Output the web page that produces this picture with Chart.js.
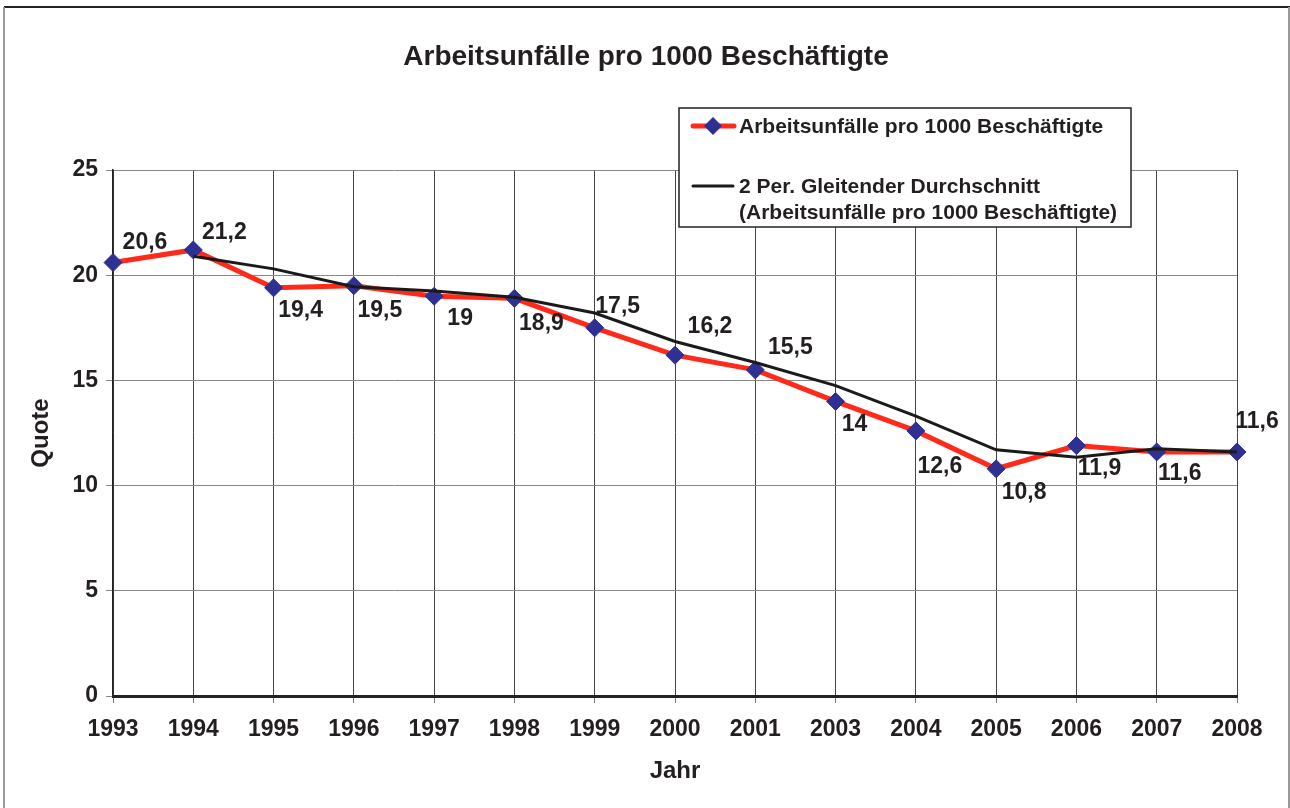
<!DOCTYPE html>
<html>
<head>
<meta charset="utf-8">
<title>Arbeitsunfälle pro 1000 Beschäftigte</title>
<script src="https://cdn.jsdelivr.net/npm/chart.js@4.4.1/dist/chart.umd.min.js"></script>
<style>
  html, body { margin: 0; padding: 0; background: #fff; }
  #wrap { width: 1290px; height: 808px; position: relative; }
</style>
</head>
<body>
<div id="wrap"><canvas id="myChart" width="1290" height="808"></canvas></div>
<script>
// Daten
const jahre = ['1993','1994','1995','1996','1997','1998','1999','2000','2001','2003','2004','2005','2006','2007','2008'];
const quote = [20.6, 21.2, 19.4, 19.5, 19, 18.9, 17.5, 16.2, 15.5, 14, 12.6, 10.8, 11.9, 11.6, 11.6];
const gleitend = [null, 20.9, 20.3, 19.45, 19.25, 18.95, 18.2, 16.85, 15.85, 14.75, 13.3, 11.7, 11.35, 11.75, 11.6];
const yTicks = [0, 5, 10, 15, 20, 25];

const titel = 'Arbeitsunfälle pro 1000 Beschäftigte';
const serie1 = 'Arbeitsunfälle pro 1000 Beschäftigte';
const serie2 = ['2 Per. Gleitender Durchschnitt', '(Arbeitsunfälle pro 1000 Beschäftigte)'];

// Lage der Wertbeschriftungen relativ zum Punkt (px)
const labelOffsets = [[32,-20],[31,-17],[27,23],[26,25],[26,22],[27,25],[23,-21],[35,-28],[35,-22],[19,23],[24,36],[28,24],[23,23],[23,22],[20,-30]];

const FONT = '"Liberation Sans", Arial, Helvetica, sans-serif';
const TEXT = '#231f20';
const ROT = '#ff2a1a';
const BLAU = '#2e3192';

const extras = {
  id: 'extras',
  afterDraw(chart) {
    const ctx = chart.ctx;
    ctx.save();
    // Rahmen
    ctx.strokeStyle = '#222';
    ctx.lineWidth = 2;
    ctx.beginPath(); ctx.moveTo(4, 7); ctx.lineTo(1290, 7); ctx.stroke();
    ctx.strokeStyle = '#999';
    ctx.lineWidth = 2;
    ctx.beginPath(); ctx.moveTo(4, 7); ctx.lineTo(4, 808); ctx.stroke();
    ctx.beginPath(); ctx.moveTo(1289, 7); ctx.lineTo(1289, 808); ctx.stroke();

    // Titel
    ctx.fillStyle = TEXT;
    ctx.font = 'bold 28px ' + FONT;
    ctx.textAlign = 'center';
    ctx.textBaseline = 'middle';
    ctx.fillText(titel, 646, 57);

    // Wertbeschriftungen
    const meta = chart.getDatasetMeta(0);
    ctx.font = 'bold 23px ' + FONT;
    meta.data.forEach((pt, i) => {
      const o = labelOffsets[i];
      ctx.fillText(String(quote[i]).replace('.', ','), pt.x + o[0], pt.y + o[1]);
    });

    // Legende
    ctx.fillStyle = '#fff';
    ctx.fillRect(679, 108, 452, 119);
    ctx.strokeStyle = '#231f20';
    ctx.lineWidth = 1.5;
    ctx.strokeRect(679, 108, 452, 119);
    ctx.lineCap = 'round';
    ctx.strokeStyle = ROT; ctx.lineWidth = 5;
    ctx.beginPath(); ctx.moveTo(693, 126); ctx.lineTo(734, 126); ctx.stroke();
    ctx.fillStyle = BLAU;
    ctx.beginPath();
    ctx.moveTo(713, 117); ctx.lineTo(722, 126); ctx.lineTo(713, 135); ctx.lineTo(704, 126);
    ctx.closePath(); ctx.fill();
    ctx.strokeStyle = '#1a1a1a'; ctx.lineWidth = 3;
    ctx.beginPath(); ctx.moveTo(693, 186); ctx.lineTo(733, 186); ctx.stroke();
    ctx.fillStyle = TEXT;
    ctx.font = 'bold 21px ' + FONT;
    ctx.textAlign = 'left';
    ctx.fillText(serie1, 739, 127);
    ctx.fillText(serie2[0], 739, 187);
    ctx.fillText(serie2[1], 739, 213);
    ctx.restore();
  }
};

const ctx = document.getElementById('myChart').getContext('2d');
const myChart = new Chart(ctx, {
  type: 'line',
  data: {
    labels: jahre,
    datasets: [{
      label: serie1,
      data: quote,
      borderColor: ROT,
      borderWidth: 5,
      pointStyle: 'rectRot',
      pointRadius: 9,
      pointHoverRadius: 9,
      pointBackgroundColor: BLAU,
      pointBorderColor: BLAU,
      pointBorderWidth: 1,
      tension: 0,
      order: 2
    }, {
      label: serie2.join(' '),
      data: gleitend,
      borderColor: '#1a1a1a',
      borderWidth: 3,
      pointRadius: 0,
      tension: 0,
      order: 1
    }]
  },
  options: {
    responsive: false,
    devicePixelRatio: 1,
    animation: false,
    layout: { padding: { top: 170, right: 53, left: 0, bottom: 0 } },
    plugins: {
      legend: { display: false },
      title: { display: false },
      tooltip: { enabled: false }
    },
    scales: {
      x: {
        offset: false,
        afterFit: function (s) { s.height = 112; },
        grid: { color: '#444', lineWidth: 1, tickLength: 7, tickColor: '#777' },
        border: { color: '#222', width: 3 },
        ticks: { color: TEXT, font: { family: FONT, size: 23, weight: 'bold' }, padding: 13, maxRotation: 0, autoSkip: false },
        title: { display: true, text: 'Jahr', color: TEXT, font: { family: FONT, size: 24, weight: 'bold' }, padding: { top: 0, bottom: 22 } }
      },
      y: {
        min: 0,
        max: 25,
        afterFit: function (s) { s.width = 113; },
        afterBuildTicks: function (s) { s.ticks = yTicks.map(v => ({ value: v })); },
        grid: { color: '#888', lineWidth: 1, tickLength: 7, tickColor: '#888' },
        border: { color: '#222', width: 1.5 },
        ticks: { color: TEXT, font: { family: FONT, size: 23, weight: 'bold' }, padding: 8 },
        title: { display: true, text: 'Quote', color: TEXT, font: { family: FONT, size: 24, weight: 'bold' }, padding: { top: 27, bottom: 0 } }
      }
    }
  },
  plugins: [extras]
});
</script>
</body>
</html>
